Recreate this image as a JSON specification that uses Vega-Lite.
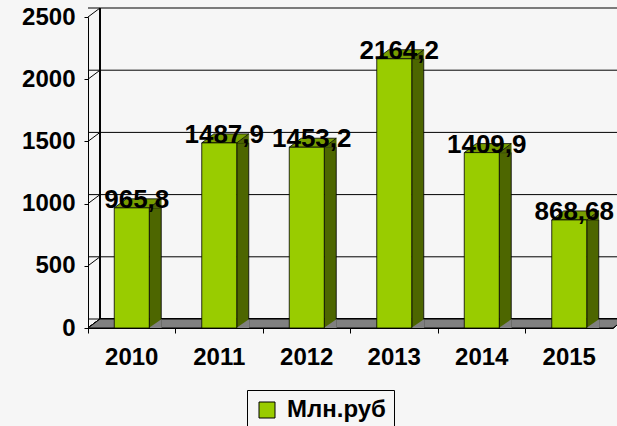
{
  "$schema": "https://vega.github.io/schema/vega-lite/v6.json",
  "width": 525,
  "height": 311,
  "autosize": "none",
  "padding": {"left": 88, "top": 17, "right": 4, "bottom": 98},
  "background": "#f6f6f6",
  "config": {
    "view": {"stroke": null},
    "font": "Liberation Sans",
    "scale": {"zero": true}
  },
  "datasets": {
    "bars": [
      {"year": "2010", "value": 965.8, "label": "965,8"},
      {"year": "2011", "value": 1487.9, "label": "1487,9"},
      {"year": "2012", "value": 1453.2, "label": "1453,2"},
      {"year": "2013", "value": 2164.2, "label": "2164,2"},
      {"year": "2014", "value": 1409.9, "label": "1409,9"},
      {"year": "2015", "value": 868.68, "label": "868,68"}
    ],
    "grid": [{"v": 0}, {"v": 500}, {"v": 1000}, {"v": 1500}, {"v": 2000}, {"v": 2500}]
  },
  "data": {"name": "bars"},
  "encoding": {
    "x": {
      "field": "year", "type": "nominal",
      "scale": {"paddingInner": 0, "paddingOuter": 0},
      "axis": {
        "title": null, "labelAngle": 0, "bandPosition": 0,
        "labelFont": "Liberation Sans", "labelFontSize": 24, "labelFontWeight": "bold", "labelColor": "black",
        "tickColor": "black", "tickSize": 5, "labelPadding": 12,
        "domainColor": "black", "domainWidth": 1, "zindex": 1
      }
    }
  },
  "layer": [
    {
      "data": {"name": "grid"},
      "mark": {"type": "rule", "stroke": "black", "strokeWidth": 1, "xOffset": 12, "x2Offset": 12, "yOffset": -9, "y2Offset": -9},
      "encoding": {
        "x": null,
        "y": {"field": "v", "type": "quantitative", "scale": {"domain": [0, 2500], "nice": false},
          "axis": {
            "title": null, "values": [0, 500, 1000, 1500, 2000, 2500], "format": "d",
            "labelFont": "Liberation Sans", "labelFontSize": 24, "labelFontWeight": "bold", "labelColor": "black",
            "tickColor": "black", "tickSize": 4, "labelPadding": 9, "domainColor": "black", "grid": false, "zindex": 1
          }
        },
        "strokeWidth": {"condition": {"test": "datum.v == 2500", "value": 2}, "value": 1}
      }
    },
    {
      "data": {"name": "grid"},
      "mark": {"type": "point", "shape": "M0,0L1,-0.75", "size": 576, "filled": false, "stroke": "black", "strokeWidth": 1, "opacity": 1},
      "encoding": {
        "x": {"datum": "2010", "type": "nominal", "bandPosition": 0},
        "y": {"field": "v", "type": "quantitative", "scale": {"domain": [0, 2500], "nice": false}}
      }
    },
    {
      "mark": {"type": "rule", "stroke": "black", "strokeWidth": 1, "xOffset": 12, "yOffset": -9, "y2Offset": -9},
      "encoding": {
        "x": {"datum": "2010", "type": "nominal", "bandPosition": 0},
        "y": {"datum": 0, "type": "quantitative", "scale": {"domain": [0, 2500], "nice": false}},
        "y2": {"datum": 2500}
      }
    },
    {
      "mark": {"type": "point", "shape": "M0,0L525,0L537,-9L12,-9Z", "size": 4, "filled": true, "fill": "#808080", "stroke": "black", "strokeWidth": 1, "opacity": 1},
      "encoding": {
        "x": {"datum": "2010", "type": "nominal", "bandPosition": 0},
        "y": {"datum": 0, "type": "quantitative", "scale": {"domain": [0, 2500], "nice": false}}
      }
    },
    {
      "mark": {"type": "bar", "size": 12, "xOffset": 23.5, "fill": "#4d6600", "stroke": "black", "strokeWidth": 0.8},
      "encoding": {
        "y": {"field": "value", "type": "quantitative", "scale": {"domain": [0, 2500], "nice": false}},
        "y2": {"datum": 0}
      }
    },
    {
      "mark": {"type": "point", "shape": "M17,0L30,0L30,-9Z", "size": 4, "filled": true, "fill": "#808080", "strokeWidth": 0, "opacity": 1},
      "encoding": {
        "y": {"datum": 0, "type": "quantitative", "scale": {"domain": [0, 2500], "nice": false}}
      }
    },
    {
      "mark": {"type": "point", "shape": "M17.5,0L29.5,-9L29.5,0Z", "size": 4, "filled": true, "fill": "#4d6600", "stroke": "#4d6600", "strokeWidth": 0.5, "opacity": 1},
      "encoding": {
        "y": {"field": "value", "type": "quantitative", "scale": {"domain": [0, 2500], "nice": false}}
      }
    },
    {
      "mark": {"type": "point", "shape": "M-17.5,0L17.5,0L29.5,-9L-5.5,-9Z", "size": 4, "filled": true, "fill": "#789e00", "stroke": "black", "strokeWidth": 0.8, "opacity": 1},
      "encoding": {
        "y": {"field": "value", "type": "quantitative", "scale": {"domain": [0, 2500], "nice": false}}
      }
    },
    {
      "mark": {"type": "bar", "size": 35, "stroke": "black", "strokeWidth": 0.8},
      "encoding": {
        "y": {"field": "value", "type": "quantitative", "scale": {"domain": [0, 2500], "nice": false}},
        "color": {
          "datum": "Млн.руб", "type": "nominal",
          "scale": {"range": ["#99cc00"]},
          "legend": {
            "title": null, "orient": "none", "legendX": 159, "legendY": 373,
            "strokeColor": "black", "padding": 8, "fillColor": "#f6f6f6",
            "symbolType": "square", "symbolSize": 256, "symbolStrokeColor": "black", "symbolStrokeWidth": 1,
            "labelFont": "Liberation Sans", "labelFontSize": 24, "labelFontWeight": "bold", "labelColor": "black",
            "labelOffset": 8
          }
        }
      }
    },
    {
      "mark": {"type": "text", "dx": 5, "baseline": "alphabetic", "align": "center", "font": "Liberation Sans", "fontSize": 26, "fontWeight": "bold", "fill": "black"},
      "encoding": {
        "y": {"field": "value", "type": "quantitative", "scale": {"domain": [0, 2500], "nice": false}},
        "text": {"field": "label"}
      }
    }
  ]
}
